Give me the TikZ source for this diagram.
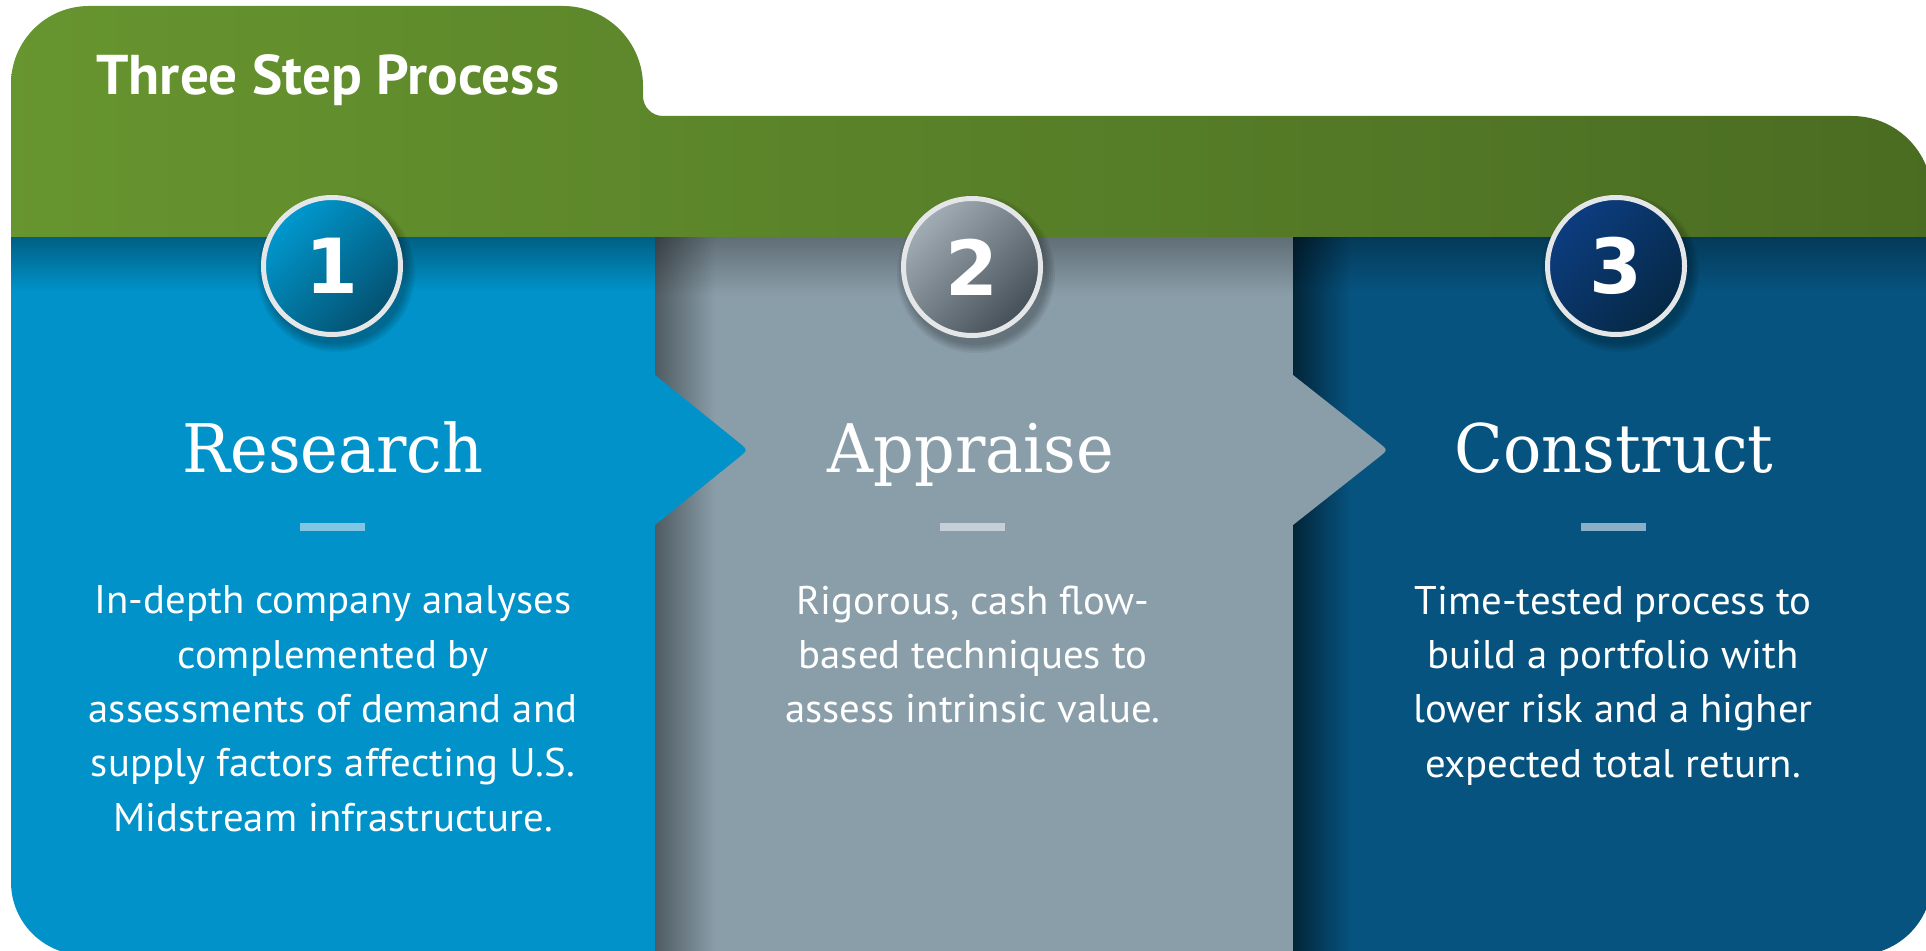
\documentclass[tikz,border=0pt]{standalone}
\usepackage{fontspec}
\setmainfont{PT Sans}[FakeStretch=1.02]
\newfontfamily\headfont[FakeStretch=0.95]{DejaVu Serif}
\newfontfamily\numfont{DejaVu Sans}
\usetikzlibrary{fadings}
\definecolor{grL}{HTML}{67952F}
\definecolor{grR}{HTML}{4A6C22}
\definecolor{cA}{HTML}{0092C8}
\definecolor{cB}{HTML}{8A9EA9}
\definecolor{cC}{HTML}{07537F}
\definecolor{dA}{HTML}{80C6E2}
\definecolor{dB}{HTML}{C6CFD6}
\definecolor{dC}{HTML}{8CAFC8}
\definecolor{ringc}{HTML}{E4E6E7}
\definecolor{nAl}{HTML}{0099CF}
\definecolor{nAd}{HTML}{04506F}
\definecolor{nBl}{HTML}{A3ADB5}
\definecolor{nBd}{HTML}{454F57}
\definecolor{nCl}{HTML}{0C3D80}
\definecolor{nCd}{HTML}{052844}
\tikzfading[name=fadeR, left color=transparent!0, right color=transparent!100]
\tikzfading[name=fadeD, top color=transparent!0, bottom color=transparent!100]
\tikzset{
  numcirc/.style 2 args={circle, minimum size=68.5pt, inner sep=0pt, draw=ringc, line width=2.5pt,
     top color=#1, bottom color=#2, shading angle=45, text=white,
     font=\numfont\bfseries\fontsize{38pt}{38pt}\selectfont},
  headtxt/.style={anchor=base, inner sep=0pt, text=white, font=\headfont\fontsize{33.5pt}{40pt}\selectfont},
  bodytxt/.style={anchor=base, inner sep=0pt, text=white, align=center, font=\fontsize{20pt}{27.15pt}\selectfont},
  dashbar/.style={minimum width=32.5pt, minimum height=4pt, inner sep=0pt},
}
\begin{document}
\begin{tikzpicture}[x=0.5pt,y=-0.5pt]
\fill[white] (0,0) rectangle (1926,951);
\path[use as bounding box] (0,0) rectangle (1926,951);
\def\outline{(11,84) arc[start angle=180,end angle=270,radius=78] -- (563,6)
  arc[start angle=270,end angle=360,radius=80] -- (643,96)
  arc[start angle=180,end angle=90,radius=20] -- (1852,116)
  arc[start angle=270,end angle=360,radius=80] -- (1932,880)
  arc[start angle=0,end angle=90,radius=75] -- (84,955)
  arc[start angle=90,end angle=180,radius=73] -- cycle}
\begin{scope}
\clip \outline;
\shade[left color=grL, right color=grR] (0,0) rectangle (1940,240);
% column 3
\fill[cC] (1293,237) rectangle (1940,960);
\fill[black, fill opacity=0.3, path fading=fadeD] (1293,237) rectangle (1940,290);
\fill[black, fill opacity=0.55, path fading=fadeR] (1293,237) rectangle (1350,960);
% column 2
\fill[cB] (655,237) rectangle (1293,960);
\fill[cB] (1293,375) -- (1378.6,442.6) .. controls (1388,450) .. (1378.6,457.4) -- (1293,525) -- cycle;
\fill[black, fill opacity=0.3, path fading=fadeD] (655,237) rectangle (1293,295);
\fill[black, fill opacity=0.42, path fading=fadeR] (655,237) rectangle (715,960);
% column 1
\fill[cA] (0,237) rectangle (655,960);
\fill[cA] (655,375) -- (738.7,442.5) .. controls (748,450) .. (738.7,457.5) -- (655,525) -- cycle;
\fill[black, fill opacity=0.34, path fading=fadeD] (0,237) rectangle (655,290);
\end{scope}
% title
\node[anchor=base west, inner sep=0pt, text=white, font=\bfseries\fontsize{28pt}{30pt}\selectfont] (title) at (96,95) {Three Step Process};
% circle shadows
\foreach \cx/\cy in {332/266, 972/267, 1616/266}{
  \foreach \r in {71,73,75,77,79}{
    \fill[black, opacity=0.06] (\cx+4,\cy+7) circle[radius=\r];
  }
}
\node[numcirc={nAl}{nAd}] (n1) at (332,266) {1};
\node[numcirc={nBl}{nBd}] (n2) at (972,267) {2};
\node[numcirc={nCl}{nCd}] (n3) at (1616,266) {3};
% headings
\node[headtxt] (h1) at (333,473) {Research};
\node[headtxt] (h2) at (971,473) {Appraise};
\node[headtxt] (h3) at (1614,473) {Construct};
% dashes
\node[dashbar, fill=dA] (d1) at (332.5,527) {};
\node[dashbar, fill=dB] (d2) at (972.5,527) {};
\node[dashbar, fill=dC] (d3) at (1613.5,527) {};
% body text (anchor base = last line)
\node[bodytxt] (b1) at (333,831) {In-depth company analyses\\complemented by\\assessments of demand and\\supply factors affecting U.S.\\Midstream infrastructure.};
\node[bodytxt] (b2) at (973,722.6) {Rigorous, cash flow-\\based techniques to\\assess intrinsic value.};
\node[bodytxt] (b3) at (1613,777) {Time-tested process to\\build a portfolio with\\lower risk and a higher\\expected total return.};
\end{tikzpicture}
\end{document}
